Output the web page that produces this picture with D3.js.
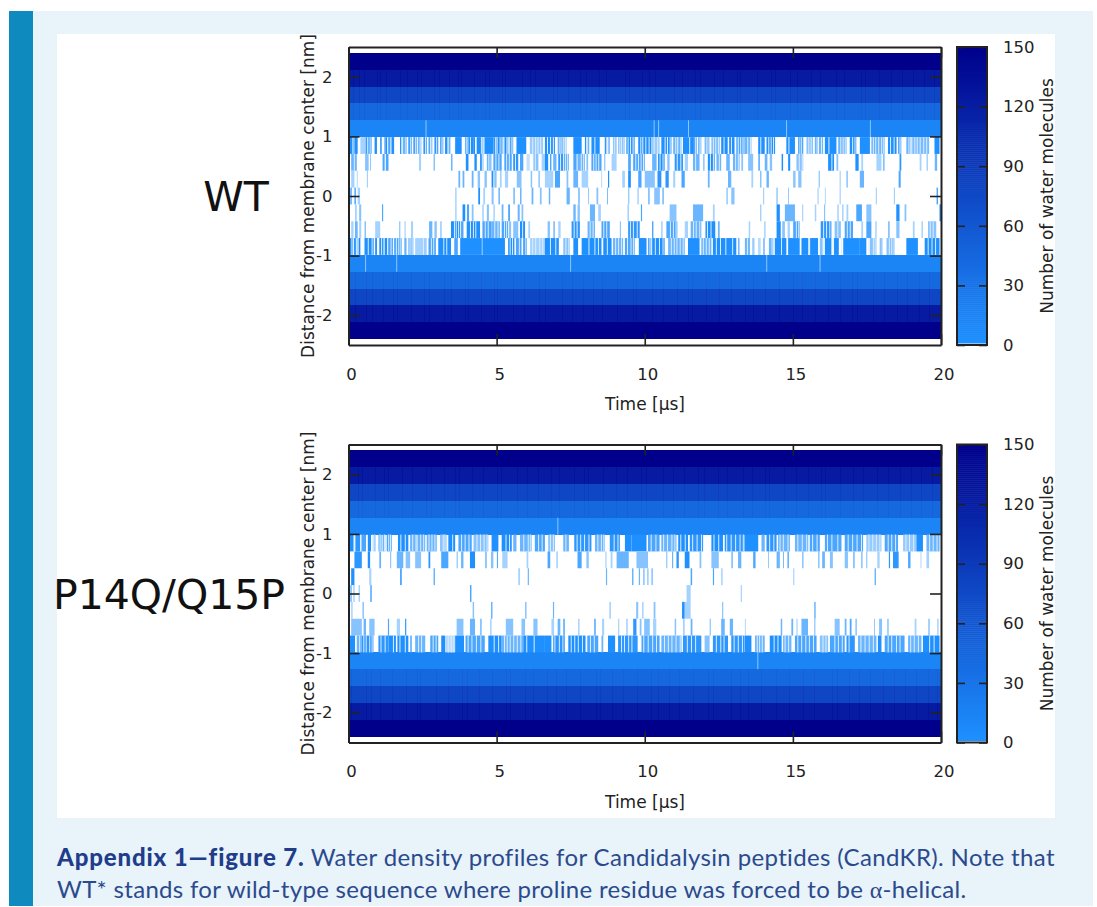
<!DOCTYPE html>
<html>
<head>
<meta charset="utf-8">
<script src="https://cdnjs.cloudflare.com/ajax/libs/d3/7.8.5/d3.min.js"></script>
<style>
body { margin: 0; background: #fff; }
svg { display: block; }
.tick text { font-family: "DejaVu Sans", sans-serif; font-size: 16.5px; fill: #222; }
</style>
</head>
<body>
<svg width="1097" height="907"></svg>
<script>
// band centres in nm, 17 slabs between -2.4 and 2.4
let bandCenters = [2.259, 1.976, 1.694, 1.412, 1.129, 0.847, 0.565, 0.282, 0, -0.282, -0.565, -0.847, -1.129, -1.412, -1.694, -1.976, -2.259];
let bandHalf = 0.1412;
// mean water count in the slabs that stay wet the whole run
let wetCounts = [150, 122, 78, 42, 12, 0, 0, 0, 0, 0, 0, 0, 12, 42, 78, 122, 150];

let xTicks = [0, 5, 10, 15, 20];
let yTicks = [-2, -1, 0, 1, 2];
let cbTicks = [0, 30, 60, 90, 120, 150];

// [start us, end us, water count] runs in the slabs that flicker
let wt5 = [[0.02,0.13,1],[0.13,0.2,0.4],[0.2,0.31,1],[0.4,0.58,0.3],[0.58,0.68,0.8],[0.7,0.79,0.6],[0.88,0.96,0.8],[1.07,1.12,0.8],[1.21,1.26,0.6],[1.26,1.35,1],[1.35,1.46,0.6],[1.46,1.54,1],[1.74,1.8,0.8],[1.83,1.97,0.5],[2.02,2.13,0.9],[2.19,2.3,0.7],[2.34,2.47,0.5],[2.53,2.64,0.8],[2.7,2.83,0.6],[2.9,3.03,0.7],[3.09,3.2,0.6],[3.26,3.34,0.8],[3.38,3.46,0.6],[3.6,3.82,1],[3.93,4.05,0.5],[4.05,4.21,0.8],[4.21,4.27,1],[4.32,4.47,1],[4.49,4.6,0.4],[4.6,4.89,1],[4.89,5.0,0.7],[5.03,5.17,1],[5.17,5.28,0.4],[5.28,5.4,0.8],[5.44,5.56,0.6],[5.67,6.0,1],[6.12,6.57,0.35],
[6.63,6.8,1],[6.83,6.97,0.7],[7.06,7.19,0.5],[7.19,7.36,0.4],[7.59,7.87,1],[7.98,8.06,0.8],[8.09,8.15,0.6],[8.2,8.48,1],[8.65,8.73,0.7],[8.77,8.82,0.5],[8.93,9.05,0.4],[9.1,9.33,0.4],[9.38,9.5,0.9],[9.53,9.66,0.7],[9.78,9.92,1],[9.95,10.22,0.8],[10.22,10.5,0.35],[10.56,10.75,1],[10.78,10.9,0.8],[10.96,11.1,0.5],[11.13,11.24,0.5],[11.29,11.63,1],[11.63,11.75,0.7],[11.8,11.91,0.5],[12.02,12.2,0.45],[12.25,12.53,0.45],[12.58,12.8,1],[12.85,13.03,0.8],[13.09,13.37,0.6],
[13.38,13.6,0.5],[13.83,14.05,0.9],[14.11,14.4,0.8],[14.78,15.07,1],[15.18,15.35,0.7],[15.46,15.68,0.4],[15.74,15.85,0.5],[15.88,16.02,0.5],[16.08,16.47,1],[16.53,16.81,0.5],[16.92,17.14,0.8],[17.26,17.6,1],[17.65,18.1,0.5],[18.21,18.5,0.8],[18.55,18.66,0.6],[18.83,19.0,0.5],[19.03,19.22,0.45],[19.22,19.6,0.45],[19.78,19.95,1]];
let wt6 = [[0.09,0.28,0.5],[0.56,0.68,0.4],[0.73,0.76,0.4],[1.15,1.22,0.6],[1.26,1.35,0.6],[2.38,2.45,0.3],[2.87,2.92,0.4],[3.46,3.51,0.5],[3.96,4.05,0.8],[4.25,4.33,1],[4.44,4.55,0.7],[4.67,4.84,0.5],[4.89,5.17,0.6],[5.26,5.51,0.6],[5.56,5.73,0.7],[5.79,5.9,0.6],[6.01,6.12,0.2],[6.24,6.41,0.4],[6.52,6.63,0.3],
[6.63,6.74,1],[6.8,6.85,0.6],[6.91,7.02,0.5],[7.08,7.3,0.7],[7.33,7.44,0.5],[7.59,7.7,0.6],[7.73,7.98,0.5],[8.03,8.09,0.4],[8.2,8.54,0.6],[8.63,8.67,0.4],[8.88,9.05,0.3],[9.44,9.53,0.6],[9.61,10.0,0.6],[10.25,10.4,0.5],[10.45,10.67,0.8],[10.76,10.84,0.4],[11.01,11.29,0.7],[11.35,11.46,0.3],[11.63,11.85,0.5],[11.97,12.02,0.4],[12.13,12.36,0.8],[12.42,12.58,0.5],[12.75,12.87,0.5],[12.98,13.2,0.5],[13.26,13.32,0.4],
[13.49,13.66,0.4],[13.83,13.89,0.5],[14.05,14.14,0.5],[14.22,14.3,0.4],[14.62,14.67,0.8],[14.84,14.91,0.9],[15.12,15.35,0.4],[16.19,16.39,0.8],[16.47,16.53,0.4],[17.11,17.22,0.9],[17.31,17.37,0.3],[17.82,17.99,0.3],[18.04,18.1,0.4],[18.6,18.66,0.7],[19.28,19.34,0.3],[19.51,19.56,0.3],[19.79,19.87,0.5]];
let wt7 = [[0.09,0.2,0.3],[0.28,0.31,0.3],[0.62,0.65,0.4],[3.71,3.77,0.5],[3.85,3.91,0.5],[4.16,4.22,0.5],[4.36,4.44,0.4],[4.59,4.67,0.4],[4.83,4.89,0.8],[4.92,5.0,0.4],[5.11,5.17,0.3],[5.28,5.39,0.3],[5.68,5.84,0.4],[6.15,6.2,0.4],[6.41,6.46,0.4],
[6.63,6.8,0.3],[6.8,6.91,0.3],[6.97,7.14,0.6],[7.36,7.42,0.4],[7.59,7.75,0.5],[7.87,8.09,0.3],[8.54,8.56,0.4],[8.76,8.8,1],[9.24,9.33,0.3],[9.44,9.53,1],[9.78,9.89,0.6],[10.0,10.34,0.4],[10.43,10.56,0.7],[10.7,10.81,0.7],[10.96,11.03,0.3],[11.24,11.35,0.6],[12.13,12.19,0.5],[12.81,12.92,0.5],
[13.6,13.66,0.3],[13.89,13.94,0.4],[14.11,14.19,0.5],[15.01,15.09,0.4],[15.18,15.29,0.4],[15.87,15.91,0.4],[16.58,16.61,0.4],[16.81,16.85,0.5],[17.26,17.4,0.5],[18.57,18.64,0.6]];
let wt8 = [[0.06,0.11,0.6],[0.2,0.25,0.6],[0.31,0.39,0.3],[3.6,3.65,0.3],[4.38,4.44,0.8],[4.55,4.61,0.3],[4.83,4.9,0.4],[5.06,5.11,0.5],[5.56,5.62,0.4],[5.79,5.84,0.5],[6.18,6.24,0.5],[6.46,6.52,0.4],
[6.76,6.81,0.5],[7.36,7.47,0.5],[7.75,7.81,0.4],[8.09,8.12,0.4],[8.37,8.43,0.4],[8.74,8.76,0.9],[9.44,9.48,0.4],[9.75,9.8,0.3],[10.11,10.17,0.4],[10.32,10.51,0.4],[10.59,10.65,0.4],[12.75,12.81,0.3],[12.92,13.03,0.4],
[14.0,14.03,0.4],[14.45,14.48,0.6],[14.84,14.87,0.4],[15.83,15.87,0.3],[16.08,16.11,0.3],[16.58,16.61,0.4],[17.8,17.83,0.4],[18.41,18.44,0.4],[19.85,19.9,0.6]];
let wt9 = [[0.22,0.28,0.3],[0.36,0.43,0.4],[1.13,1.17,0.6],[3.6,3.65,0.3],[3.85,3.94,0.8],[4.0,4.07,0.6],[4.16,4.22,0.4],[4.52,4.56,0.4],[4.67,4.74,0.4],[4.89,4.94,0.3],[5.17,5.23,0.5],[5.39,5.45,0.6],[5.71,5.78,0.5],[5.84,5.9,0.4],
[7.59,7.67,0.5],[7.73,7.81,0.4],[8.15,8.32,0.5],[8.43,8.52,0.3],[9.42,9.46,0.4],[9.87,9.91,0.6],[10.84,11.07,0.4],[11.63,11.97,0.5],[12.3,12.36,0.3],
[13.89,13.94,0.3],[14.45,14.56,0.8],[14.73,15.07,0.5],[15.31,15.35,0.3],[15.74,15.79,0.3],[16.05,16.09,0.4],[16.5,16.55,0.3],[16.66,16.71,0.3],[16.81,16.87,0.3],[17.14,17.33,0.6],[17.48,17.65,0.4],[18.49,18.6,0.9],[18.77,18.83,0.4],[19.95,20,0.8]];
let wt10 = [[0.09,0.17,0.3],[0.22,0.31,0.5],[0.36,0.43,0.3],[0.54,0.59,0.4],[0.9,1.07,0.3],[1.71,1.75,0.4],[1.89,1.93,0.3],[2.11,2.18,0.3],[2.72,2.83,0.5],[2.9,2.98,0.4],[3.09,3.15,0.3],[3.46,3.77,0.9],[3.8,3.88,0.6],[3.99,4.44,0.8],[4.52,4.83,0.6],[4.83,5.11,0.5],[5.17,5.39,0.6],[5.42,5.49,0.4],[5.56,5.73,0.4],[5.79,5.96,0.8],[6.07,6.13,0.3],
[6.72,6.8,0.4],[6.91,6.97,0.4],[7.08,7.16,0.3],[7.53,7.81,0.7],[8.07,8.32,0.5],[8.54,8.82,0.6],[9.16,9.19,0.5],[9.44,9.83,0.7],[10.25,10.29,0.7],[10.56,10.6,0.4],[10.73,11.1,0.6],[11.35,11.46,0.3],[11.55,11.91,0.5],[12.05,12.38,0.9],[12.47,12.53,0.5],
[13.51,13.56,0.3],[14.03,14.08,0.3],[14.45,14.59,1],[14.64,14.73,0.4],[14.82,14.9,0.3],[15.01,15.23,0.6],[15.94,16.3,0.7],[16.41,16.62,0.4],[16.75,17.03,0.6],[17.31,17.37,0.3],[17.48,17.65,0.6],[17.78,17.83,0.3],[18.21,18.27,0.4],[18.49,18.6,0.4],[19.05,19.11,0.3],[19.34,19.39,0.3],[19.56,19.84,0.4]];
let wt11 = [[0.02,0.15,1],[0.18,0.3,0.7],[0.34,0.4,0.9],[0.54,0.85,1],[0.9,0.96,0.8],[1.04,1.18,0.9],[1.22,1.35,0.8],[1.35,1.5,0.6],[1.54,1.8,0.6],[1.89,1.97,0.7],[2.02,2.19,0.5],[2.25,2.53,0.3],[2.56,2.64,0.5],[2.7,2.95,0.6],[3.03,3.46,1],[3.57,3.69,0.6],[3.77,4.5,1],[4.52,5.28,1],[5.39,5.6,0.8],[5.65,5.84,0.6],[5.9,6.01,0.8],[6.13,6.63,0.3],
[6.63,7.1,0.95],[7.25,7.47,0.4],[7.59,7.75,0.9],[7.87,8.54,1],[8.6,8.88,1],[8.93,9.27,0.5],[9.33,9.66,0.6],[9.8,10.06,1],[10.11,10.22,0.6],[10.25,10.67,0.8],[10.79,11.35,0.5],[11.46,11.85,1],[11.91,12.25,0.5],[12.3,13.09,0.8],[13.15,13.2,0.5],
[13.38,13.55,0.5],[13.63,13.72,0.4],[13.83,13.92,0.3],[14.0,14.05,0.5],[14.19,14.34,0.5],[14.39,14.78,0.9],[14.84,15.23,1],[15.29,15.52,0.9],[15.57,15.85,0.9],[15.91,16.02,0.4],[16.08,16.3,0.8],[16.39,16.55,0.9],[16.7,17.26,1],[17.26,17.48,0.9],[17.6,17.82,0.4],[17.93,18.04,0.4],[18.16,18.44,0.4],[18.83,19.22,1],[19.45,19.95,0.8]];

let mut5 = [[0.02,0.17,1],[0.22,0.39,0.7],[0.43,0.59,0.6],[0.65,0.76,0.8],[0.84,0.92,0.3],[1.01,1.12,0.5],[1.15,1.24,0.5],[1.29,1.46,0.6],[1.67,2.02,0.8],[2.08,2.3,0.5],[2.33,2.59,0.5],[2.64,2.98,0.5],[3.09,3.31,0.4],[3.37,3.6,0.9],[3.71,4.16,0.6],[4.22,4.72,0.4],[4.83,5.06,1],[5.17,5.51,0.8],[5.56,5.67,0.5],[5.79,6.18,0.5],[6.29,6.63,0.6],
[6.74,6.97,0.4],[7.25,7.44,0.5],[7.62,8.2,0.7],[8.32,8.65,0.5],[8.82,9.16,0.7],[9.33,9.55,1],[9.55,10.06,1],[10.11,10.5,0.6],[10.56,11.07,0.5],[11.13,11.46,0.8],[11.52,11.97,0.7],[12.25,12.64,0.8],[12.7,13.37,0.7],
[13.38,13.83,0.9],[13.94,14.05,0.5],[14.11,14.45,0.7],[14.5,14.9,0.5],[15.07,15.52,0.5],[15.57,15.91,0.6],[16.08,16.64,0.6],[16.75,17.37,0.6],[17.48,17.99,0.35],[18.1,18.55,0.6],[18.72,19.17,0.35],[19.17,19.39,1],[19.51,19.95,0.5]];
let mut6 = [[0.2,0.45,0.7],[0.65,0.73,0.8],[1.04,1.1,0.5],[1.41,1.44,0.5],[1.63,1.85,0.5],[1.93,2.08,0.4],[2.25,2.45,0.4],[2.7,2.76,0.7],[3.13,3.37,0.6],[3.65,3.69,0.4],[3.8,3.88,0.5],[4.1,4.27,0.9],[4.61,4.67,0.4],[4.81,4.89,0.4],[5.01,5.04,0.7],[5.19,5.37,0.3],[6.01,6.07,0.3],
[6.72,6.81,0.6],[7.02,7.06,0.4],[7.73,7.87,0.6],[8.03,8.11,0.4],[8.67,8.71,0.3],[8.85,8.91,0.3],[9.05,9.46,0.5],[9.72,10.11,0.4],[10.73,10.76,0.5],[10.92,10.96,0.5],[11.07,11.15,0.7],[11.35,11.51,0.8],[11.85,11.91,0.4],[12.25,12.5,0.4],[12.92,12.98,0.4],[13.15,13.26,0.5],
[13.66,13.74,0.6],[14.17,14.19,0.6],[14.45,14.56,0.5],[14.67,14.7,0.5],[14.82,14.86,0.7],[15.31,15.36,0.4],[15.85,15.9,0.4],[15.99,16.08,0.5],[16.25,16.35,0.4],[16.75,16.86,0.4],[17.03,17.09,0.4],[17.31,17.35,0.5],[17.48,17.51,0.5],[17.85,17.93,0.3],[18.24,18.28,0.7],[18.38,18.57,0.7],[18.89,18.97,0.6],[19.31,19.34,0.3],[19.51,19.6,0.3]];
let mut7 = [[0.09,0.2,0.8],[0.7,0.77,0.3],[1.74,1.8,0.6],[2.87,2.92,0.5],[5.73,5.79,0.3],[6.05,6.09,0.5],[8.69,8.73,0.5],[9.57,9.62,0.5],[9.8,9.84,0.5],[9.94,10.0,0.35],[10.08,10.13,0.35],[10.22,10.28,0.35],[11.55,11.6,0.6],[12.3,12.34,0.6],[12.58,12.63,0.3],[15.01,15.05,0.3],[17.76,17.8,0.6]];
let mut8 = [[0.06,0.11,0.5],[0.17,0.2,0.5],[0.34,0.39,0.3],[0.73,0.79,0.5],[4.1,4.15,0.6],[11.41,11.55,0.3],[13.24,13.28,0.3]];
let mut9 = [[0.09,0.14,0.3],[0.47,0.52,0.4],[4.19,4.24,0.4],[4.81,4.86,0.5],[5.96,6.01,0.4],[6.9,6.94,0.5],[8.81,8.85,0.4],[9.71,9.78,0.4],[9.91,9.96,0.3],[10.3,10.36,0.4],[11.26,11.35,1],[11.35,11.55,0.3],[12.61,12.65,0.4],[15.72,15.77,0.5]];
let mut10 = [[0.09,0.45,0.4],[0.51,0.59,0.5],[0.7,0.88,0.4],[1.33,1.37,0.6],[1.63,1.74,0.3],[1.91,1.95,0.7],[3.65,3.88,0.4],[4.1,4.27,0.5],[4.44,4.5,0.4],[4.78,4.83,0.3],[5.31,5.56,0.4],[5.84,5.96,0.4],[6.24,6.38,0.4],
[6.85,6.94,0.3],[7.06,7.15,0.5],[7.25,7.3,0.6],[7.75,7.8,0.3],[8.3,8.34,0.8],[8.56,8.63,0.3],[9.1,9.14,0.3],[9.38,9.42,0.4],[9.61,9.72,0.7],[9.83,9.89,0.4],[9.98,10.17,0.4],[10.28,10.39,0.3],[11.01,11.06,0.4],[11.29,11.35,0.3],[11.55,11.61,0.5],[12.19,12.23,0.4],[12.58,12.7,0.5],[12.87,12.98,0.5],
[13.38,13.41,0.3],[14.59,14.64,0.5],[14.95,15.01,0.5],[15.12,15.16,0.3],[15.29,15.51,0.5],[15.72,15.76,0.4],[16.41,16.58,0.4],[16.75,16.81,0.5],[16.92,16.98,0.6],[17.11,17.16,0.4],[17.74,17.77,0.4],[17.91,18.01,0.4],[18.19,18.23,0.5],[19.11,19.17,0.3],[19.56,19.63,0.3],[19.87,19.92,0.3]];
let mut11 = [[0.02,0.22,1],[0.28,0.45,0.5],[0.45,0.84,0.7],[1.01,1.35,0.7],[1.35,1.6,0.85],[1.65,2.02,0.85],[2.08,2.14,0.5],[2.25,2.59,0.5],[2.76,3.03,0.6],[3.13,3.26,1],[3.26,3.6,0.25],[3.6,3.9,0.9],[3.95,4.6,0.6],[4.72,5.17,0.8],[5.17,5.9,0.5],[5.9,6.63,0.9],
[6.63,6.85,1],[6.91,7.3,0.7],[7.42,8.0,0.75],[8.06,8.43,0.6],[8.54,8.6,0.5],[8.76,9.0,0.9],[9.1,9.76,0.7],[9.89,10.5,0.6],[10.56,11.24,0.5],[11.29,11.91,0.7],[12.02,12.19,0.4],[12.3,12.81,0.7],[12.92,13.37,0.7],
[13.38,13.6,0.8],[13.72,14.05,0.5],[14.22,14.62,0.9],[14.67,14.95,0.5],[15.07,15.8,0.6],[15.91,16.19,0.4],[16.25,16.75,0.6],[16.81,17.09,0.7],[17.2,17.82,0.5],[17.87,17.99,1],[18.1,18.77,0.6],[18.89,19.34,0.5],[19.39,19.95,1]];

// dry frames inside the flickering runs, times in us
let wt5Dry = [0.62,0.74,1.3,1.41,1.78,1.92,2.07,2.24,2.4,2.44,2.58,2.75,2.8,2.96,3.14,3.42,3.98,4.1,4.29,4.53,4.95,5.1,5.21,5.33,5.37,5.5,6.2,6.3,6.38,6.47,6.7,6.9,7.12,7.25,7.31,8.02,8.12,8.3,8.7,8.97,9.14,9.2,9.28,9.42,9.59,9.85,10.02,10.13,10.3,10.42,10.67,10.84,11.03,11.2,11.5,11.69,11.85,12.08,12.16,12.3,12.38,12.47,12.66,12.91,13.14,13.22,13.3,13.46,13.55,13.9,14.17,14.25,14.33,14.85,15.22,15.28,15.52,15.6,15.8,15.95,16.2,16.6,16.68,16.75,17.0,17.08,17.7,17.78,17.88,17.98,18.05,18.28,18.4,18.6,18.9,18.96,19.1,19.18,19.28,19.4,19.5];
let wt6Dry = [0.18,4.5,4.72,4.8,4.96,5.06,5.32,5.41,5.62,6.29,7.14,7.24,7.38,7.84,7.92,8.26,8.34,8.43,9.68,9.77,9.86,9.94,10.5,10.6,11.08,11.2,11.7,12.2,12.3,12.5,13.05,13.14,15.2,15.3,16.3];
let wt10Dry = [3.56,3.62,3.7,4.1,4.2,4.28,4.6,4.7,4.92,5.03,5.25,5.32,5.86,7.6,7.7,8.14,8.24,8.6,8.7,9.5,9.6,9.73,10.85,10.95,11.04,11.63,11.72,11.84,12.1,12.22,15.1,15.18,16.02,16.12,16.23,16.5,16.82,16.92,19.62,19.72];
let wt11Dry = [0.1,0.25,0.65,0.78,1.1,1.3,1.42,1.6,1.68,1.75,1.93,2.06,2.13,2.6,2.78,2.86,3.2,3.3,5.44,5.52,5.75,5.95,6.2,6.3,6.44,6.54,6.8,6.98,7.32,7.42,8.1,8.3,8.42,8.72,9.0,9.1,9.2,9.4,9.52,9.6,10.16,10.34,10.48,10.6,10.88,10.98,11.07,11.18,11.28,11.96,12.06,12.16,12.4,12.54,12.72,12.95,13.45,13.68,13.88,14.28,14.6,15.55,16.0,16.34,16.62,17.55,17.7,17.76,18.0,18.24,18.32,18.4,19.55,19.68,19.8];
let mut5Dry = [0.2,0.4,0.62,0.8,1.05,1.2,1.34,1.4,1.75,1.9,2.15,2.26,2.42,2.52,2.7,2.8,2.9,3.18,3.24,3.5,3.8,3.92,4.05,4.32,4.44,4.56,4.66,5.3,5.42,5.9,6.05,6.12,6.4,6.52,6.8,6.9,7.32,7.7,7.82,7.95,8.1,8.4,8.52,8.6,8.95,9.08,10.2,10.36,10.62,10.75,10.9,11.0,11.2,11.35,11.6,11.75,11.9,12.32,12.48,12.75,12.9,13.05,13.2,13.31,14.2,14.34,14.55,14.66,14.82,15.15,15.3,15.45,15.65,15.8,16.15,16.3,16.5,16.85,17.0,17.15,17.3,17.55,17.68,17.8,17.92,18.2,18.32,18.45,18.8,18.92,19.06,19.6,19.72,19.85];
let mut11Dry = [0.25,0.36,0.5,0.58,0.7,0.78,1.08,1.22,1.5,1.72,1.9,2.35,2.45,2.84,2.94,3.35,3.45,3.54,4.02,4.15,4.3,4.45,4.9,5.05,5.25,5.34,5.44,5.56,5.68,5.8,6.0,6.25,6.95,7.1,7.22,7.5,7.62,7.74,7.88,8.15,8.28,9.2,9.3,9.44,9.55,9.95,10.1,10.25,10.38,10.65,10.78,10.9,11.04,11.18,11.42,11.56,11.7,12.4,12.55,12.66,13.0,13.14,13.28,13.78,13.86,13.95,14.35,14.48,14.72,14.84,15.15,15.28,15.42,15.54,15.68,16.0,16.1,16.4,16.52,16.65,16.88,17.28,17.42,17.56,17.7,18.2,18.32,18.48,18.6,18.96,19.08,19.22,19.6,19.75];

// thin pale spikes reaching up into the wet slabs [slab index, time us]
let wtSpikes = [[4,2.6],[4,10.3],[4,10.45],[4,11.46],[4,14.77],[4,17.6],[12,0.56],[12,1.61],[12,7.48],[12,14.1],[12,15.9]];
let mutSpikes = [[4,7.05],[12,13.8]];

// columns where the dense slabs run a little darker, [upper slabs, lower slabs]
let wtDarkerUp = [0.14,0.37,0.52,0.95,1.07,1.26,1.74,1.98,2.31,2.44,2.9,3.05,3.38,3.71,3.79,4.22,4.61,4.73,5.18,5.29,5.84,6.12,6.3,6.9,7.05,7.42,7.81,8.0,8.44,8.7,9.33,9.47,9.9,10.13,10.36,10.98,11.25,11.7,11.88,12.34,12.63,13.1,13.22,13.8,14.25,14.38,14.9,15.15,15.62,15.9,16.44,16.71,17.3,17.45,17.92,18.3,18.7,19.05,19.42,19.77];
let wtDarkerLow = [0.22,0.6,0.81,1.16,1.5,1.63,2.11,2.55,2.72,3.21,3.47,3.92,4.05,4.48,4.9,5.02,5.55,5.91,6.44,6.63,7.2,7.55,7.93,8.26,8.57,9.05,9.6,9.72,10.24,10.6,11.1,11.46,11.58,12.07,12.5,12.92,13.4,13.65,14.07,14.53,15.02,15.3,15.75,16.2,16.6,17.0,17.18,17.7,18.08,18.5,18.85,19.25,19.6];
let mutDarkerUp = [0.31,0.45,0.88,1.21,1.33,1.8,2.14,2.62,2.77,3.24,3.6,3.73,4.17,4.55,5.02,5.15,5.7,6.03,6.38,6.85,7.12,7.6,7.95,8.09,8.6,9.02,9.4,9.87,10.03,10.6,10.95,11.33,11.8,12.01,12.48,12.77,13.3,13.62,14.05,14.2,14.7,15.1,15.5,15.95,16.1,16.58,17.04,17.36,17.84,18.2,18.62,19.0,19.33,19.71];
let mutDarkerLow = [0.1,0.58,0.75,1.05,1.48,1.95,2.3,2.42,2.95,3.36,3.84,4.01,4.4,4.83,5.3,5.44,5.95,6.24,6.7,7.0,7.35,7.82,8.35,8.48,8.9,9.25,9.73,10.2,10.44,10.82,11.17,11.62,12.14,12.3,12.9,13.2,13.5,13.92,14.42,14.86,15.35,15.7,16.33,16.5,16.88,17.22,17.6,18.03,18.42,18.8,19.15,19.55,19.86];

// occupancy below one molecule shows as a tint of the bottom colour
let blue = d3.scaleLinear().domain([0, 0.75, 1, 150]).range(["#ffffff", "#1e90ff", "#1e90ff", "#00008b"]);

let svg = d3.select("svg");

// page furniture
svg.append("rect").attr("x", 9).attr("y", 11).attr("width", 1084).attr("height", 895).attr("fill", "#e8f3fa");
svg.append("rect").attr("x", 9).attr("y", 11).attr("width", 24).attr("height", 895).attr("fill", "#0f8abf");
svg.append("rect").attr("x", 57).attr("y", 34).attr("width", 998).attr("height", 784).attr("fill", "#fff");

function drawPanel(top, name, nameX, slabs, dry, spikes, darkerUp, darkerLow) {
    let height = 298;
    let x = d3.scaleLinear().domain([0, 20]).range([348.5, 941]);
    let y = d3.scaleLinear().domain([-2.5, 2.5]).range([top + height, top]);
    let g = svg.append("g");

    let bandY = function (c) { return y(c + bandHalf); };
    let bandH = y(0) - y(bandHalf * 2);

    // solid slabs
    g.selectAll(".band").data(wetCounts.map(function (v, i) { return { v: v, c: bandCenters[i] }; }).filter(function (d) { return d.v > 0; }))
        .enter().append("rect")
        .attr("shape-rendering", "crispEdges")
        .attr("x", x(0)).attr("width", x(20) - x(0))
        .attr("y", function (d) { return bandY(d.c); })
        .attr("height", bandH)
        .attr("fill", function (d) { return blue(d.v); });

    // darker columns in the slabs that are not saturated
    wetCounts.forEach(function (v, i) {
        if (v < 20) return;
        g.selectAll(null).data(i < 8 ? darkerUp : darkerLow).enter().append("rect")
            .attr("x", function (t) { return x(t); })
            .attr("width", 1)
            .attr("y", bandY(bandCenters[i]))
            .attr("height", bandH)
            .attr("shape-rendering", "crispEdges")
            .attr("fill", blue(Math.min(150, v + 8)));
    });

    // flickering slabs
    slabs.forEach(function (runs, k) {
        g.selectAll(null).data(runs).enter().append("rect")
            .attr("x", function (d) { return x(d[0]); })
            .attr("width", function (d) { return x(d[1]) - x(d[0]); })
            .attr("y", bandY(bandCenters[5 + k]))
            .attr("height", bandH)
            .attr("fill", function (d) { return blue(d[2]); });
    });

    // dry frames on top of the runs
    dry.forEach(function (d) {
        g.selectAll(null).data(d.times).enter().append("rect")
            .attr("x", function (t) { return x(t); })
            .attr("width", 1)
            .attr("y", bandY(bandCenters[d.slab]))
            .attr("height", bandH)
            .attr("fill", "#dcedff");
    });

    g.selectAll(null).data(spikes).enter().append("rect")
        .attr("x", function (d) { return x(d[1]); })
        .attr("width", 1)
        .attr("y", function (d) { return bandY(bandCenters[d[0]]); })
        .attr("height", bandH)
        .attr("fill", "#8cc6ff");

    // axes, ticks point inward on all four sides
    let xAxis = g.append("g").attr("transform", "translate(0," + (top + height) + ")")
        .call(d3.axisBottom(x).tickValues(xTicks).tickFormat(String).tickSizeInner(-11).tickSizeOuter(0).tickPadding(23));
    let yAxis = g.append("g").attr("transform", "translate(" + x(0) + ",0)")
        .call(d3.axisLeft(y).tickValues(yTicks).tickFormat(String).tickSizeInner(-11).tickSizeOuter(0).tickPadding(16));
    let xTop = g.append("g").attr("transform", "translate(0," + top + ")")
        .call(d3.axisTop(x).tickValues(xTicks).tickSizeInner(-11).tickSizeOuter(0).tickFormat(""));
    let yRight = g.append("g").attr("transform", "translate(" + x(20) + ",0)")
        .call(d3.axisRight(y).tickValues(yTicks).tickSizeInner(-11).tickSizeOuter(0).tickFormat(""));
    [xAxis, yAxis, xTop, yRight].forEach(function (a) {
        a.selectAll("line").attr("stroke", "#222").attr("stroke-width", 1.6);
        a.select(".domain").attr("stroke", "#222").attr("stroke-width", 2);
    });
    xAxis.selectAll("text").attr("dx", 2.5);

    g.append("text").attr("x", 645).attr("y", top + 363)
        .attr("text-anchor", "middle").attr("font-family", "DejaVu Sans").attr("font-size", 17).attr("fill", "#222")
        .text("Time [µs]");
    g.append("text").attr("transform", "translate(314," + (top + 149) + ") rotate(-90)")
        .attr("text-anchor", "middle").attr("font-family", "DejaVu Sans").attr("font-size", 17).attr("fill", "#222")
        .text("Distance from membrane center [nm]");
    g.append("text").attr("x", nameX).attr("y", top + 149 + 15)
        .attr("text-anchor", "middle").attr("font-family", "DejaVu Sans").attr("font-size", 41).attr("fill", "#111")
        .text(name);

    // colour bar
    let c = d3.scaleLinear().domain([0, 150]).range([top + height, top]);
    let barX = 957, barW = 30;
    g.selectAll(null).data(d3.range(1, 150)).enter().append("rect")
        .attr("x", barX).attr("width", barW)
        .attr("y", function (v) { return c(v + 1); })
        .attr("height", c(0) - c(1) + 0.5)
        .attr("fill", function (v) { return blue(v); });
    g.append("rect").attr("x", barX).attr("y", top).attr("width", barW).attr("height", height)
        .attr("fill", "none").attr("stroke", "#222").attr("stroke-width", 2);
    let cbRight = g.append("g").attr("transform", "translate(" + (barX + barW) + ",0)")
        .call(d3.axisRight(c).tickValues(cbTicks).tickSizeInner(-8).tickSizeOuter(0).tickPadding(16));
    let cbLeft = g.append("g").attr("transform", "translate(" + barX + ",0)")
        .call(d3.axisLeft(c).tickValues(cbTicks).tickSizeInner(-8).tickSizeOuter(0).tickFormat(""));
    [cbRight, cbLeft].forEach(function (a) {
        a.select(".domain").remove();
        a.selectAll("line").attr("stroke", "#222").attr("stroke-width", 1.6);
    });
    g.append("text").attr("transform", "translate(1053," + (top + 149) + ") rotate(-90)")
        .attr("text-anchor", "middle").attr("font-family", "DejaVu Sans").attr("font-size", 17).attr("fill", "#222")
        .text("Number of water molecules");
}

drawPanel(47, "WT", 236, [wt5, wt6, wt7, wt8, wt9, wt10, wt11],
    [{ slab: 5, times: wt5Dry }, { slab: 6, times: wt6Dry }, { slab: 10, times: wt10Dry }, { slab: 11, times: wt11Dry }],
    wtSpikes, wtDarkerUp, wtDarkerLow);
drawPanel(444.5, "P14Q/Q15P", 169, [mut5, mut6, mut7, mut8, mut9, mut10, mut11],
    [{ slab: 5, times: mut5Dry }, { slab: 11, times: mut11Dry }],
    mutSpikes, mutDarkerUp, mutDarkerLow);

// caption
let cap = svg.append("g").attr("font-family", "Lato").attr("font-size", 24).attr("fill", "#2b4a8d");
let l1 = cap.append("text").attr("x", 57).attr("y", 866).attr("letter-spacing", 0.36);
l1.append("tspan").attr("font-weight", 900).attr("fill", "#1f3d8a").attr("letter-spacing", 0.85).text("Appendix 1—figure 7.");
l1.append("tspan").text(" Water density profiles for Candidalysin peptides (CandKR). Note that");
let l2 = cap.append("text").attr("x", 57).attr("y", 898).attr("letter-spacing", 0.3);
l2.append("tspan").text("WT* stands for wild-type sequence where proline residue was forced to be ");
l2.append("tspan").attr("font-family", "Liberation Serif").text("α");
l2.append("tspan").text("-helical.");
</script>
</body>
</html>
